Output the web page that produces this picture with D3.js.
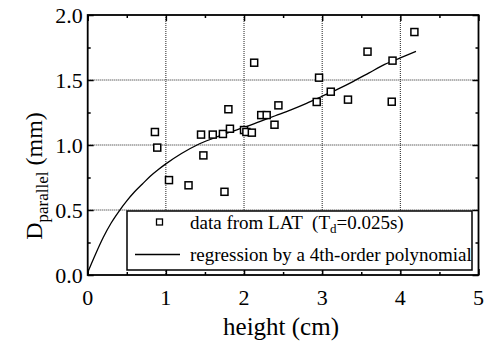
<!DOCTYPE html>
<html>
<head>
<meta charset="utf-8">
<script src="https://cdn.jsdelivr.net/npm/d3@7"></script>
<style>
  body { margin: 0; background: #fff; }
  text { font-family: "Liberation Serif", "Times New Roman", Times, "DejaVu Serif", serif; }
</style>
</head>
<body>
<svg id="chart" width="486" height="343"></svg>
<script>
// measured points (LAT data)
const heightCm = [0.86, 0.89, 1.04, 1.29, 1.45, 1.48, 1.60, 1.73, 1.75, 1.80, 1.82, 2.00, 2.03, 2.10, 2.13,
                  2.22, 2.29, 2.39, 2.44, 2.93, 2.96, 3.11, 3.33, 3.58, 3.89, 3.90, 4.18];
const dParallel = [1.10, 0.98, 0.73, 0.69, 1.08, 0.92, 1.08, 1.085, 0.64, 1.275, 1.125, 1.115, 1.10, 1.095, 1.633,
                   1.23, 1.23, 1.156, 1.305, 1.331, 1.518, 1.41, 1.349, 1.718, 1.333, 1.649, 1.869];

// regression curve
const fitX = [0, 0.1, 0.2, 0.3, 0.4, 0.5, 0.6, 0.7, 0.8, 0.9, 1.0, 1.2, 1.4, 1.6, 1.8, 2.0,
              2.2, 2.4, 2.6, 2.8, 3.0, 3.2, 3.4, 3.6, 3.8, 4.0, 4.2];
const fitY = [0.02, 0.16, 0.29, 0.40, 0.49, 0.57, 0.64, 0.70, 0.76, 0.81, 0.855, 0.935, 1.00, 1.05, 1.095, 1.135,
              1.18, 1.225, 1.27, 1.32, 1.375, 1.43, 1.49, 1.555, 1.62, 1.67, 1.72];

const xTicks = [0, 1, 2, 3, 4, 5];
const yTicks = [0.0, 0.5, 1.0, 1.5, 2.0];
const legendLabels = ['data from LAT', 'regression by a 4th-order polynomial'];

(function() {
    'use strict';

    const FONT = '"Liberation Serif", "Times New Roman", Times, serif';
    const svg = d3.select('#chart');
    const left = 87.7, right = 478.5, top = 15, bottom = 275;

    const x = d3.scaleLinear().domain([0, 5]).range([left, right]);
    const y = d3.scaleLinear().domain([0, 2]).range([bottom, top]);

    // dotted grid
    const grid = svg.append('g')
        .attr('stroke', '#222')
        .attr('stroke-width', 1)
        .attr('stroke-dasharray', '1,1');

    grid.selectAll('.gx')
        .data(xTicks.slice(1, -1))
        .enter().append('line')
        .attr('x1', d => x(d)).attr('x2', d => x(d))
        .attr('y1', top).attr('y2', bottom);

    grid.selectAll('.gy')
        .data(yTicks.slice(1, -1))
        .enter().append('line')
        .attr('x1', left).attr('x2', right)
        .attr('y1', d => y(d)).attr('y2', d => y(d));

    // regression curve
    const fit = fitX.map((v, i) => ({ x: v, y: fitY[i] }));
    const line = d3.line()
        .x(d => x(d.x))
        .y(d => y(d.y))
        .curve(d3.curveMonotoneX);

    svg.append('path')
        .datum(fit)
        .attr('fill', 'none')
        .attr('stroke', '#000')
        .attr('stroke-width', 1.3)
        .attr('d', line);

    // data squares
    const pts = heightCm.map((v, i) => ({ x: v, y: dParallel[i] }));
    const sz = 7;
    svg.selectAll('.pt')
        .data(pts)
        .enter().append('rect')
        .attr('class', 'pt')
        .attr('x', d => x(d.x) - sz / 2)
        .attr('y', d => y(d.y) - sz / 2)
        .attr('width', sz)
        .attr('height', sz)
        .attr('fill', '#fff')
        .attr('stroke', '#000')
        .attr('stroke-width', 1.5);

    // axes with inward ticks on all four sides
    const xMinor = d3.range(0, 5.01, 0.5);
    const yMinor = d3.range(0, 2.01, 0.25);

    const axB = svg.append('g')
        .attr('transform', `translate(0,${bottom})`)
        .call(d3.axisBottom(x).tickValues(xMinor).tickSize(-6).tickFormat(''));
    const axT = svg.append('g')
        .attr('transform', `translate(0,${top})`)
        .call(d3.axisTop(x).tickValues(xMinor).tickSize(-6).tickFormat(''));
    const axL = svg.append('g')
        .attr('transform', `translate(${left},0)`)
        .call(d3.axisLeft(y).tickValues(yMinor).tickSize(-6).tickFormat(''));
    const axR = svg.append('g')
        .attr('transform', `translate(${right},0)`)
        .call(d3.axisRight(y).tickValues(yMinor).tickSize(-6).tickFormat(''));

    [axB, axT].forEach(a => a.selectAll('.tick line')
        .attr('y2', d => (Math.abs(d % 1) < 1e-6 ? 6 : 3) * (a === axB ? -1 : 1)));
    [axL, axR].forEach(a => a.selectAll('.tick line')
        .attr('x2', d => (Math.abs(d % 0.5) < 1e-6 ? 6 : 3) * (a === axL ? 1 : -1)));

    [axB, axT, axL, axR].forEach(a => {
        a.select('.domain').remove();
        a.selectAll('.tick line').attr('stroke', '#000').attr('stroke-width', 1.5);
    });

    // frame
    svg.append('rect')
        .attr('x', left).attr('y', top)
        .attr('width', right - left).attr('height', bottom - top)
        .attr('fill', 'none')
        .attr('stroke', '#000')
        .attr('stroke-width', 1.8);

    // tick labels
    svg.selectAll('.xl')
        .data(xTicks)
        .enter().append('text')
        .attr('x', d => x(d))
        .attr('y', bottom + 30)
        .attr('text-anchor', 'middle')
        .attr('font-family', FONT)
        .style('font-size', '22px')
        .text(d => d);

    svg.selectAll('.yl')
        .data(yTicks)
        .enter().append('text')
        .attr('x', left - 5)
        .attr('y', d => y(d) + 8)
        .attr('text-anchor', 'end')
        .attr('font-family', FONT)
        .style('font-size', '22px')
        .text(d => d3.format('.1f')(d));

    // axis titles
    svg.append('text')
        .attr('x', 281)
        .attr('y', 335)
        .attr('text-anchor', 'middle')
        .attr('font-family', FONT)
        .style('font-size', '25px')
        .text('height (cm)');

    const yt = svg.append('text')
        .attr('transform', 'translate(42,176) rotate(-90)')
        .attr('text-anchor', 'middle')
        .attr('font-family', FONT)
        .style('font-size', '24px');
    yt.append('tspan').text('D');
    yt.append('tspan').attr('dy', 6).style('font-size', '17px').text('parallel');
    yt.append('tspan').attr('dy', -6).text(' (mm)');

    // legend
    const lg = svg.append('g');
    lg.append('rect')
        .attr('x', 127).attr('y', 211)
        .attr('width', 345).attr('height', 59)
        .attr('fill', '#fff')
        .attr('stroke', '#000')
        .attr('stroke-width', 1.5);

    lg.append('rect')
        .attr('x', 159.5 - 3).attr('y', 222 - 3)
        .attr('width', 6).attr('height', 6)
        .attr('fill', '#fff')
        .attr('stroke', '#000')
        .attr('stroke-width', 1.3);

    lg.append('line')
        .attr('x1', 135).attr('x2', 180)
        .attr('y1', 254.5).attr('y2', 254.5)
        .attr('stroke', '#000')
        .attr('stroke-width', 1.3);

    const t1 = lg.append('text')
        .attr('x', 190).attr('y', 229)
        .attr('font-family', FONT)
        .style('white-space', 'pre')
        .style('font-size', '19px');
    t1.append('tspan').text(legendLabels[0] + '  (T');
    t1.append('tspan').attr('dy', 4).style('font-size', '13px').text('d');
    t1.append('tspan').attr('dy', -4).text('=0.025s)');

    lg.append('text')
        .attr('x', 190).attr('y', 261)
        .attr('font-family', FONT)
        .style('font-size', '19px')
        .text(legendLabels[1]);
})();
</script>
</body>
</html>
